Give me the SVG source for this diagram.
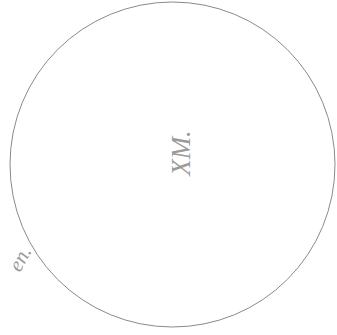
<svg xmlns="http://www.w3.org/2000/svg" width="337" height="335" viewBox="0 0 337 335">
<style>
.pencil{fill:none;stroke:#8a8a8a;stroke-width:1}
.hand{font-family:"Liberation Serif",serif;font-style:italic;fill:#9a9a9a}
</style>
<rect width="337" height="335" fill="#ffffff"/>
<g id="circle">
<circle class="pencil" cx="172.5" cy="164.5" r="162.5"/>
</g>
<g id="label-xm">
<text class="hand" font-size="27" text-anchor="middle" transform="translate(190,153) rotate(-90)">XM.</text>
</g>
<g id="label-en">
<text class="hand" font-size="21" text-anchor="middle" transform="translate(26,262) rotate(-62)">en.</text>
</g>
</svg>
